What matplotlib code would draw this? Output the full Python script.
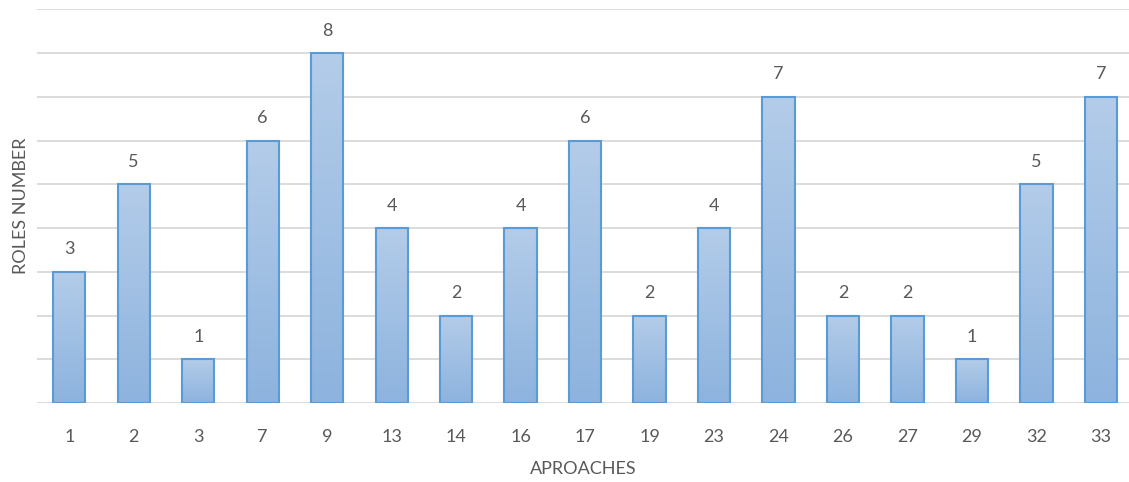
import numpy as np
import matplotlib.pyplot as plt
from matplotlib.colors import LinearSegmentedColormap

approaches = ["1", "2", "3", "7", "9", "13", "14", "16", "17", "19", "23", "24", "26", "27", "29", "32", "33"]
roles = [3, 5, 1, 6, 8, 4, 2, 4, 6, 2, 4, 7, 2, 2, 1, 5, 7]

plt.rcParams["font.family"] = ["Lato", "DejaVu Sans"]
txt = "#595959"

fig = plt.figure(figsize=(11.29, 4.82), dpi=100)
ax = fig.add_axes([37 / 1129, 1 - 403 / 482, 1 - 37 / 1129, (403 - 9.25) / 482])

grad = LinearSegmentedColormap.from_list("g", ["#8db3de", "#b3cce9"])
x = np.arange(len(approaches))
w = 0.5
for xi, h in zip(x, roles):
    g = np.linspace(0, 1, 100).reshape(-1, 1)
    ax.imshow(g, cmap=grad, origin="lower", aspect="auto",
              extent=(xi - w / 2, xi + w / 2, 0, h), zorder=2)
ax.bar(x, roles, width=w, facecolor="none", edgecolor="#5b9bd5", linewidth=1.5, zorder=3)

for xi, h in zip(x, roles):
    ax.text(xi, h + 0.33, str(h), ha="center", va="bottom", fontsize=13, color=txt)

ax.set_xlim(-0.5, 16 + 28 / 64.4)
ax.set_ylim(0, 9)
ax.set_yticks(range(0, 10))
ax.yaxis.grid(True, color="#d9d9d9", linewidth=1.3, zorder=0)
ax.set_axisbelow(True)
ax.tick_params(axis="y", left=False, labelleft=False)
ax.tick_params(axis="x", length=0, pad=19, labelsize=13, labelcolor=txt)
ax.set_xticks(x)
ax.set_xticklabels(approaches)
for s in ax.spines.values():
    s.set_visible(False)

ax.set_xlabel("APROACHES", fontsize=13, color=txt, labelpad=11)
ax.set_ylabel("ROLES NUMBER", fontsize=13, color=txt, labelpad=6)

fig.savefig("out.png", dpi=100)
